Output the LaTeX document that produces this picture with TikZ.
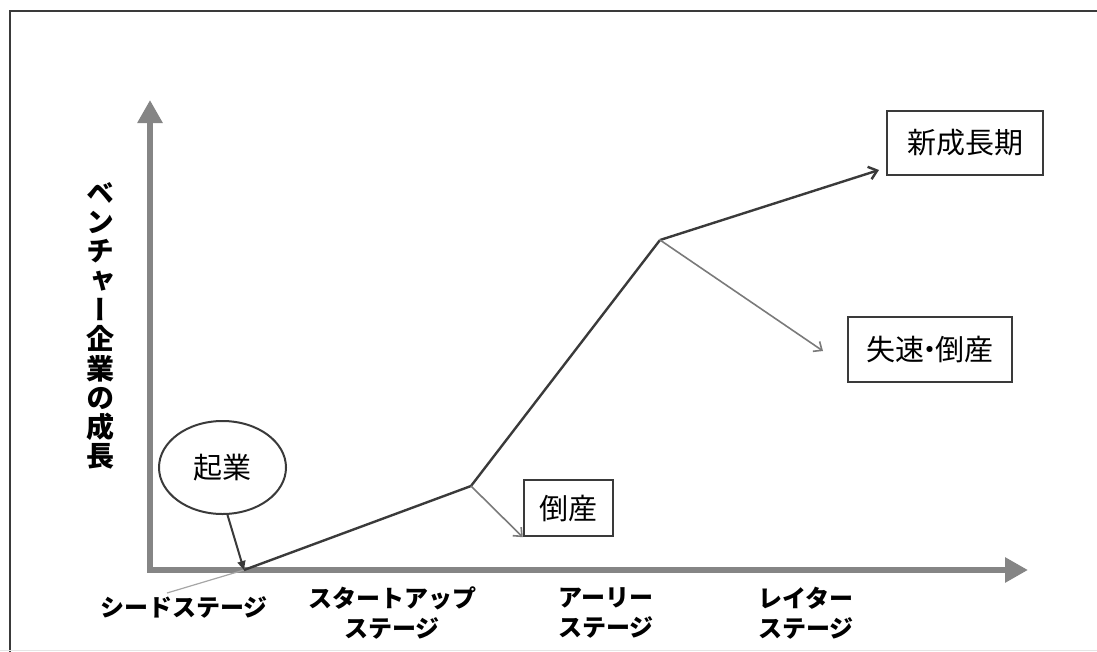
\documentclass[tikz,border=0pt]{standalone}
\usepackage{fontspec}
\setmainfont{Noto Sans CJK JP}
\newfontfamily\vfont[RawFeature=+vert]{Noto Sans CJK JP}
\usetikzlibrary{arrows.meta,shapes.geometric}
\definecolor{axisgray}{HTML}{858585}
\definecolor{linedark}{HTML}{3A3A3A}
\definecolor{branchgray}{HTML}{7A7A7A}
\tikzset{
  axisline/.style={draw=axisgray,line width=6pt,-{Triangle[length=23pt,width=24pt]}},
  mainline/.style={draw=linedark,line width=2.4pt},
  branchline/.style={draw=branchgray,line width=1.6pt,-{Straight Barb[length=7pt,width=12pt,line width=1.6pt]}},
  labelbox/.style={draw=linedark,line width=2.4pt,font=\fontsize{29}{32}\selectfont,inner sep=0pt,align=center},
  stagelabel/.style={font=\bfseries\fontsize{24}{30}\selectfont,align=center,inner sep=0pt},
}
\begin{document}
\begin{tikzpicture}[x=1pt,y=-1pt]
\useasboundingbox (0,0) rectangle (1097,651);
% frame
\draw[draw=linedark,line width=2.6pt] (10,680) -- (10,11) -- (1120,11);
\draw[draw=black!10,line width=1pt] (0,650) -- (1097,650);
% axes
\coordinate (origin) at (150,570);
\coordinate (ytip) at (150,100);
\coordinate (xtip) at (1028,570);
\draw[axisline] (origin) -- (ytip);
\draw[axisline] ([xshift=-3pt]origin) -- (xtip);
% vertical label
\node[font=\vfont\bfseries\fontsize{28}{29.3}\selectfont,align=center,inner sep=0pt] (ylabel) at (100,326)
  {ベ\\ン\\チ\\ャ\\ー\\企\\業\\の\\成\\長};
% path points
\coordinate (p0) at (167,593);
\coordinate (p1) at (244,570);
\coordinate (p2) at (471,486);
\coordinate (p3) at (660,240);
\coordinate (pend) at (879,170);
\coordinate (fallend) at (823,351);
% nodes
\node[ellipse,draw=linedark,line width=2pt,minimum width=127pt,minimum height=93pt,inner sep=0pt,
      font=\fontsize{29}{32}\selectfont] (kigyo) at (222.5,467.5) {起業};
\node[labelbox,minimum width=89pt,minimum height=56pt] (tosan) at (568.5,508) {倒産};
\node[labelbox,minimum width=156pt,minimum height=64pt] (shinseicho) at (965,143) {新成長期};
\node[labelbox,minimum width=164pt,minimum height=65pt] (shissoku) at (930,349.5) {失速\kern-9pt・\kern-9pt倒産};
% curves
\draw[draw=black!35,line width=1.2pt] (p0) -- (p1);
\draw[mainline] (p1) -- (p2) -- (p3);
\draw[mainline,-{Straight Barb[length=8pt,width=13pt,line width=2.4pt]}] (p3) -- (pend);
\draw[branchline] (p2) -- (tosan.south west);
\draw[branchline] (p3) -- (fallend);
\draw[draw=linedark,line width=2pt,-{Triangle[length=9pt,width=8pt]}] (kigyo.-84) -- (p1);
% stage labels
\node[stagelabel] (seed) at (184,607) {シードステージ};
\node[stagelabel] (startup) at (392,613) {スタートアップ\\ステージ};
\node[stagelabel] (early) at (606,613) {アーリー\\ステージ};
\node[stagelabel] (later) at (806,613) {レイター\\ステージ};
\end{tikzpicture}
\end{document}
